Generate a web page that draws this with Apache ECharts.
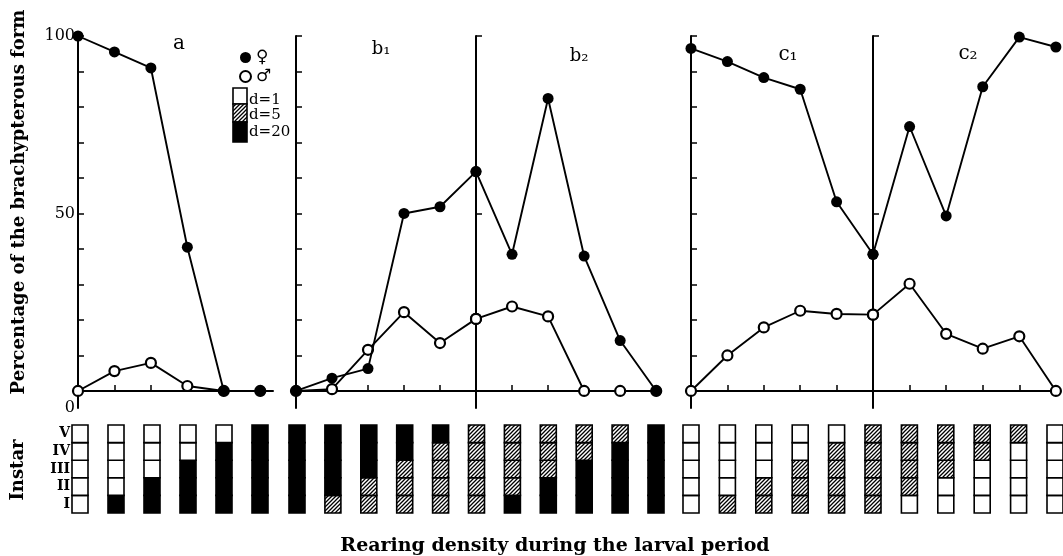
<!DOCTYPE html>
<html>
<head>
<meta charset="utf-8">
<script src="https://cdn.jsdelivr.net/npm/echarts@6/dist/echarts.min.js"></script>
<style>
  html, body { margin: 0; padding: 0; background: #fff; }
  #chart { width: 1063px; height: 556px; }
</style>
</head>
<body>
<div id="chart"></div>
<script>
// % brachypterous form, one value per rearing-density step
const femaleA = [100, 95.5, 91, 40.5, 0, 0];
const maleA = [0, 5.6, 7.9, 1.4, 0, 0];
const femaleB = [0, 3.6, 6.3, 50, 51.9, 61.8, 38.5, 82.4, 38, 14.2, 0];
const maleB = [0, 0.5, 11.6, 22.2, 13.5, 20.3, 23.8, 21, 0, 0, 0];
const femaleC = [96.5, 92.8, 88.3, 85, 53.3, 38.5, 74.5, 49.3, 85.7, 99.7, 96.9];
const maleC = [0, 10, 17.9, 22.6, 21.7, 21.5, 30.2, 16.1, 11.9, 15.4, 0];

// rearing density (d) in instars I..V for each column
const instarNames = ["I", "II", "III", "IV", "V"];
const instarA = [
  [1, 1, 1, 1, 1], [20, 1, 1, 1, 1], [20, 20, 1, 1, 1],
  [20, 20, 20, 1, 1], [20, 20, 20, 20, 1], [20, 20, 20, 20, 20],
];
const instarB = [
  [20, 20, 20, 20, 20], [5, 20, 20, 20, 20], [5, 5, 20, 20, 20],
  [5, 5, 5, 20, 20], [5, 5, 5, 5, 20], [5, 5, 5, 5, 5],
  [20, 5, 5, 5, 5], [20, 20, 5, 5, 5], [20, 20, 20, 5, 5],
  [20, 20, 20, 20, 5], [20, 20, 20, 20, 20],
];
const instarC = [
  [1, 1, 1, 1, 1], [5, 1, 1, 1, 1], [5, 5, 1, 1, 1],
  [5, 5, 5, 1, 1], [5, 5, 5, 5, 1], [5, 5, 5, 5, 5],
  [1, 5, 5, 5, 5], [1, 1, 5, 5, 5], [1, 1, 1, 5, 5],
  [1, 1, 1, 1, 5], [1, 1, 1, 1, 1],
];

const panelLabels = ["a", "b\u2081", "b\u2082", "c\u2081", "c\u2082"];
const yTicks = [0, 10, 20, 30, 40, 50, 60, 70, 80, 90, 100];
const yTicksSparse = [0, 50, 100];

const SERIF = '"DejaVu Serif", "Liberation Serif", serif';
const AXIS_BOTTOM = -4.8; // x axis sits a little below the 0 level

function makeHatch() {
  const c = document.createElement("canvas");
  c.width = 4;
  c.height = 4;
  const g = c.getContext("2d");
  g.fillStyle = "#fff";
  g.fillRect(0, 0, 4, 4);
  g.strokeStyle = "#000";
  g.lineWidth = 1.3;
  g.beginPath();
  g.moveTo(0, 4); g.lineTo(4, 0);
  g.moveTo(-1, 1); g.lineTo(1, -1);
  g.moveTo(3, 5); g.lineTo(5, 3);
  g.stroke();
  return c;
}
const hatch = { image: makeHatch(), repeat: "repeat" };
const fillFor = (d) => (d === 1 ? "#fff" : d === 5 ? hatch : "#000");

const chart = echarts.init(document.getElementById("chart"), null, { renderer: "canvas" });

// five plot panels: a, b1, b2, c1, c2
const panels = [
  { left: 78, width: 195, max: 5.35, f: femaleA, m: maleA, ticks: yTicks, labels: true },
  { left: 296, width: 180, max: 5, f: femaleB.slice(0, 6), m: maleB.slice(0, 6), ticks: yTicks },
  { left: 476, width: 182, max: 5.05, f: femaleB.slice(5), m: maleB.slice(5), ticks: yTicksSparse },
  { left: 691, width: 182, max: 5, f: femaleC.slice(0, 6), m: maleC.slice(0, 6), ticks: yTicks },
  { left: 873, width: 184, max: 5.03, f: femaleC.slice(5), m: maleC.slice(5), ticks: yTicksSparse },
];

// instar strips under panels a, b, c
const strips = [
  { left: 80, width: 180, max: 5, cols: instarA, labels: true },
  { left: 297, width: 359, max: 10, cols: instarB },
  { left: 691, width: 364, max: 10, cols: instarC },
];

const grid = [];
const xAxis = [];
const yAxis = [];
const series = [];

panels.forEach((p, i) => {
  grid.push({ left: p.left, width: p.width, top: 36, height: 372 });
  xAxis.push({
    gridIndex: i, type: "value", min: 0, max: p.max,
    axisLine: { lineStyle: { color: "#000", width: 2 } },
    axisTick: { inside: true, length: 6, lineStyle: { color: "#000", width: 1.5 }, customValues: [1, 2, 3, 4, 5] },
    axisLabel: { show: false },
    splitLine: { show: false },
  });
  yAxis.push({
    gridIndex: i, type: "value", min: AXIS_BOTTOM, max: 100,
    axisLine: { show: true, lineStyle: { color: "#000", width: 2 } },
    axisTick: { show: true, inside: true, length: 6, lineStyle: { color: "#000", width: 1.5 }, customValues: p.ticks },
    axisLabel: {
      show: !!p.labels,
      customValues: [AXIS_BOTTOM, 50, 100],
      formatter: (v) => (v < 0 ? "0" : String(Math.round(v))),
      color: "#000", fontFamily: SERIF, fontSize: 16, margin: 3,
    },
    splitLine: { show: false },
  });
  series.push({
    name: "\u2642", type: "line", xAxisIndex: i, yAxisIndex: i,
    data: p.m.map((v, k) => [k, v]),
    symbol: "circle", symbolSize: 10, clip: false, z: 2,
    lineStyle: { color: "#000", width: 1.9 },
    itemStyle: { color: "#fff", borderColor: "#000", borderWidth: 2.2 },
  });
  series.push({
    name: "\u2640", type: "line", xAxisIndex: i, yAxisIndex: i,
    data: p.f.map((v, k) => [k, v]),
    symbol: "circle", symbolSize: 11, clip: false, z: 3,
    lineStyle: { color: "#000", width: 1.9 },
    itemStyle: { color: "#000", borderColor: "#000", borderWidth: 0 },
  });
});

strips.forEach((s, j) => {
  const gi = panels.length + j;
  grid.push({ left: s.left, width: s.width, top: 425, height: 88 });
  xAxis.push({ gridIndex: gi, type: "value", min: 0, max: s.max, show: false });
  yAxis.push({
    gridIndex: gi, type: "category", data: instarNames,
    axisLine: { show: false }, axisTick: { show: false },
    axisLabel: { show: !!s.labels, interval: 0, color: "#000", fontFamily: SERIF, fontWeight: "bold", fontSize: 14, margin: 10 },
    splitLine: { show: false },
  });
  const data = [];
  s.cols.forEach((col, k) => {
    col.forEach((d, n) => data.push([k, n, d]));
  });
  series.push({
    type: "custom", xAxisIndex: gi, yAxisIndex: gi, data,
    encode: { x: 0, y: 1 }, clip: false, silent: true,
    renderItem: (params, api) => {
      const c = api.coord([api.value(0), api.value(1)]);
      const h = api.size([0, 1])[1];
      return {
        type: "rect",
        shape: { x: c[0] - 8, y: c[1] - h / 2, width: 16, height: h },
        style: { fill: fillFor(api.value(2)), stroke: "#000", lineWidth: 1.6 },
      };
    },
  });
});

const labelPos = [[179, 44], [381, 49], [579, 56], [788, 55], [968, 54]];
const graphic = panelLabels.map((t, i) => ({
  type: "text", x: labelPos[i][0], y: labelPos[i][1],
  style: { text: t, font: (i === 0 || i > 2 ? "20px " : "18px ") + SERIF, fill: "#000", align: "center", verticalAlign: "middle" },
}));

graphic.push(
  {
    type: "text", x: 19, y: 202, rotation: Math.PI / 2,
    style: { text: "Percentage of the brachypterous form", font: "bold 18px " + SERIF, fill: "#000", align: "center", verticalAlign: "middle" },
  },
  {
    type: "text", x: 18, y: 470, rotation: Math.PI / 2,
    style: { text: "Instar", font: "bold 18px " + SERIF, fill: "#000", align: "center", verticalAlign: "middle" },
  },
  {
    type: "text", x: 555, y: 546,
    style: { text: "Rearing density during the larval period", font: "bold 19px " + SERIF, fill: "#000", align: "center", verticalAlign: "middle" },
  },
  // density key
  { type: "rect", shape: { x: 233, y: 88, width: 14, height: 16 }, style: { fill: "#fff", stroke: "#000", lineWidth: 1.6 } },
  { type: "rect", shape: { x: 233, y: 104, width: 14, height: 18 }, style: { fill: hatch, stroke: "#000", lineWidth: 1.6 } },
  { type: "rect", shape: { x: 233, y: 122, width: 14, height: 20 }, style: { fill: "#000", stroke: "#000", lineWidth: 1.6 } },
  { type: "text", x: 249, y: 100, style: { text: "d=1", font: "15px " + SERIF, fill: "#000", verticalAlign: "middle" } },
  { type: "text", x: 249, y: 115, style: { text: "d=5", font: "15px " + SERIF, fill: "#000", verticalAlign: "middle" } },
  { type: "text", x: 249, y: 132, style: { text: "d=20", font: "15px " + SERIF, fill: "#000", verticalAlign: "middle" } }
);

chart.setOption({
  animation: false,
  backgroundColor: "#fff",
  legend: {
    data: ["\u2640", "\u2642"], orient: "vertical", left: 234, top: 44,
    icon: "circle", itemWidth: 11, itemHeight: 11, itemGap: 2,
    textStyle: { color: "#000", fontSize: 17, lineHeight: 16, fontFamily: '"DejaVu Sans", sans-serif' },
    selectedMode: false,
  },
  grid, xAxis, yAxis, series, graphic,
});
</script>
</body>
</html>
